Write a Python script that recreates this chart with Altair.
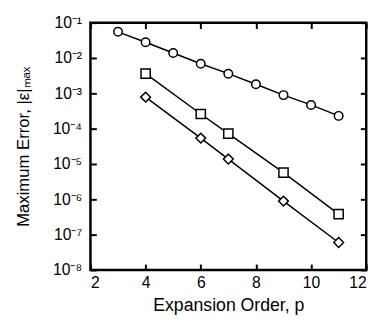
import altair as alt
import pandas as pd

p_circle = [3, 4, 5, 6, 7, 8, 9, 10, 11]
err_circle = [5.5e-2, 2.8e-2, 1.38e-2, 6.9e-3, 3.6e-3, 1.8e-3, 8.9e-4, 4.7e-4, 2.3e-4]
p_square = [4, 6, 7, 9, 11]
err_square = [3.6e-3, 2.6e-4, 7.2e-5, 5.7e-6, 3.8e-7]
p_diamond = [4, 6, 7, 9, 11]
err_diamond = [7.8e-4, 5.4e-5, 1.38e-5, 8.9e-7, 6.0e-8]
x_ticks = [2, 4, 6, 8, 10, 12]
y_ticks = [1e-8, 1e-7, 1e-6, 1e-5, 1e-4, 1e-3, 1e-2, 1e-1]

rows = []
for name, xs, ys in [("circle", p_circle, err_circle),
                     ("square", p_square, err_square),
                     ("diamond", p_diamond, err_diamond)]:
    for x, y in zip(xs, ys):
        rows.append({"series": name, "p": x, "err": y})
df = pd.DataFrame(rows)

FONT = "Liberation Sans"
sup_expr = ("'10' + ['⁰','⁻¹','⁻²','⁻³','⁻⁴','⁻⁵','⁻⁶','⁻⁷','⁻⁸']"
            "[round(-log(datum.value)/LN10)]")

xscale = alt.Scale(domain=[2, 12], nice=False, zero=False)
yscale = alt.Scale(type="log", domain=[1e-8, 1e-1], nice=False)

base = alt.Chart(df)

lines = base.mark_line(color="black", strokeWidth=1.5).encode(
    x=alt.X("p:Q", scale=xscale,
            axis=alt.Axis(orient="bottom", values=x_ticks, title="Expansion Order, p",
                          offset=-6, tickSize=6, domain=False, grid=False,
                          labelPadding=5, titlePadding=6, tickColor="black",
                          tickWidth=2, labelColor="black", titleColor="black",
                          labelFontSize=16, titleFontSize=18, labelFont=FONT,
                          titleFont=FONT, titleFontWeight="normal")),
    y=alt.Y("err:Q", scale=yscale,
            axis=alt.Axis(orient="left", values=y_ticks, labelExpr=sup_expr,
                          title="Maximum Error, |ε|ₘₐₓ", offset=-6, tickSize=6,
                          domain=False, grid=False, labelPadding=9, titlePadding=20,
                          tickColor="black", tickWidth=2, labelColor="black",
                          titleColor="black", labelFontSize=16, titleFontSize=17,
                          labelFont=FONT, titleFont=FONT, titleFontWeight="normal")),
    detail="series:N",
)

points = base.mark_point(filled=True, fill="white", stroke="black", strokeWidth=1.5,
                         opacity=1).encode(
    x=alt.X("p:Q", scale=xscale,
            axis=alt.Axis(orient="top", values=x_ticks, labels=False, title=None,
                          offset=-6, tickSize=6, domain=False, grid=False,
                          tickColor="black", tickWidth=2)),
    y=alt.Y("err:Q", scale=yscale,
            axis=alt.Axis(orient="right", values=y_ticks, labels=False, title=None,
                          offset=-6, tickSize=6, domain=False, grid=False,
                          tickColor="black", tickWidth=2)),
    shape=alt.Shape("series:N",
                    scale=alt.Scale(domain=["circle", "square", "diamond"],
                                    range=["circle", "square", "diamond"]),
                    legend=None),
    size=alt.Size("series:N",
                  scale=alt.Scale(domain=["circle", "square", "diamond"],
                                  range=[75, 100, 115]),
                  legend=None),
)

chart = alt.layer(lines, points).resolve_axis(x="independent", y="independent").properties(
    width=281, height=252,
    autosize=alt.AutoSizeParams(type="none"),
    padding={"left": 84, "top": 12, "right": 12, "bottom": 47},
    background="white",
).configure_view(stroke="black", strokeWidth=2.5)

chart.save("out.html", embed_options={"renderer": "svg", "actions": False})
